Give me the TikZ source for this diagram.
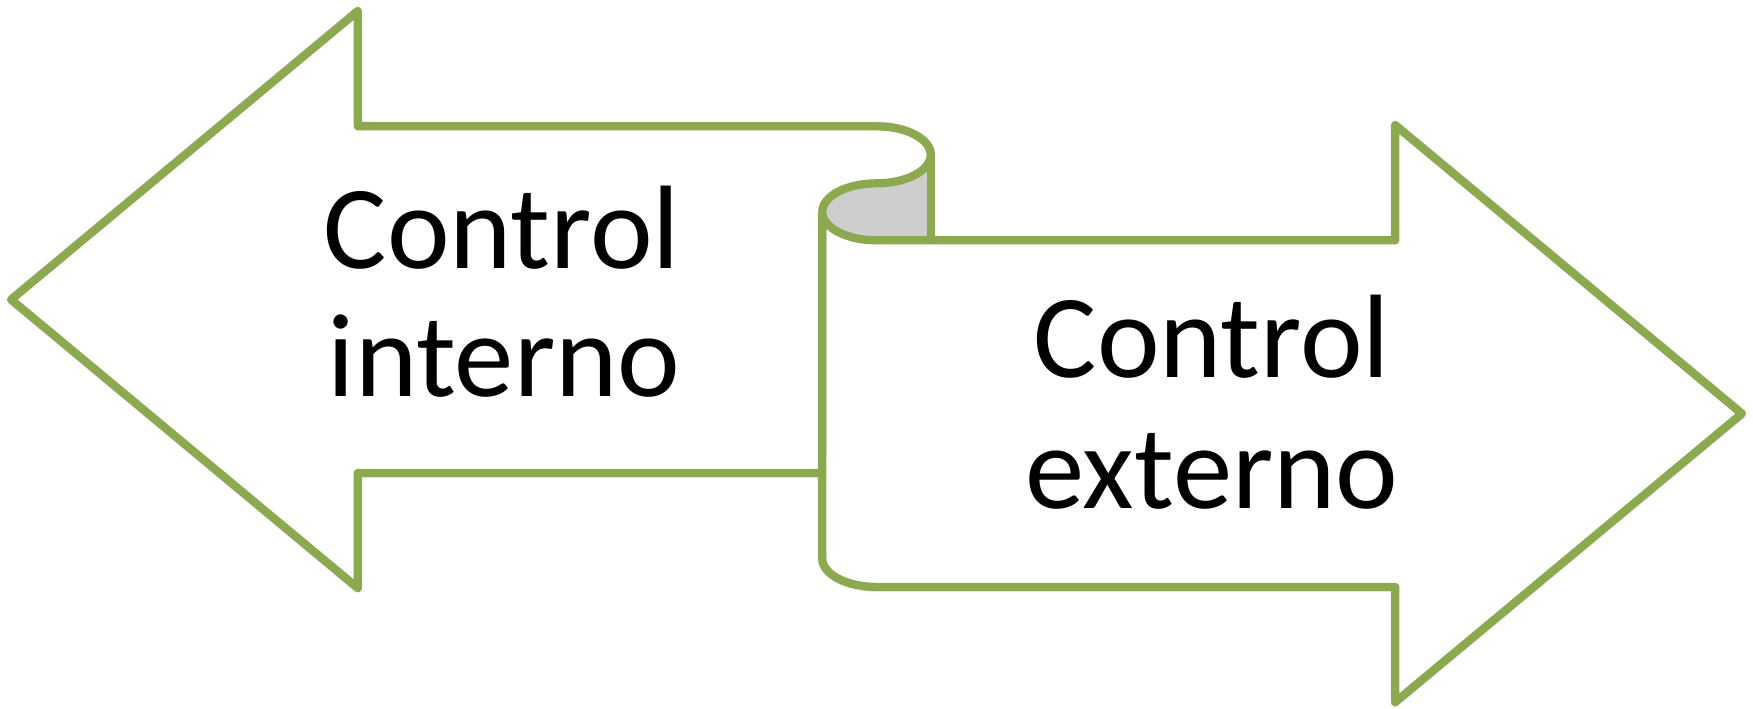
\documentclass[tikz,border=0pt]{standalone}
\usepackage{fontspec}
\setmainfont{Carlito}
\definecolor{ribgreen}{RGB}{141,169,80}
\definecolor{curlgray}{RGB}{206,206,206}
\begin{document}
\begin{tikzpicture}[x=0.01cm,y=0.01cm,
  ribline/.style={draw=ribgreen,line width=2.1pt,line join=round,line cap=round},
  shadowline/.style={draw=black!30,opacity=0.35,line width=2.4pt,line join=round},
  lbl/.style={anchor=base,inner sep=0pt,font=\fontsize{30.2}{33}\selectfont}]
\useasboundingbox (0,0) rectangle (1568,634);
% key points
\coordinate (Ltip) at (10,366);
\coordinate (Lht) at (320,624);
\coordinate (Lnt) at (320,521);
\coordinate (Lnb) at (320,211);
\coordinate (Lhb) at (320,108);
\coordinate (Rtip) at (1558,264);
\coordinate (Rht) at (1248,522);
\coordinate (Rnt) at (1248,419);
\coordinate (Rnb) at (1248,109);
\coordinate (Rhb) at (1248,6);
\coordinate (C1) at (784,521);
\coordinate (C2) at (784,419);
\coordinate (C3) at (735.5,211);
\coordinate (C4) at (735.5,134.5);
\coordinate (C5) at (832.5,495.5);
\coordinate (C6) at (832.5,419);
% shadow
\begin{scope}[shift={(2,-3)}]
\path[shadowline] (C3) -- (Lnb) -- (Lhb) -- (Ltip) -- (Lht) -- (Lnt) -- (C1)
  arc[start angle=90,end angle=-90,x radius=48.5,y radius=25.5]
  arc[start angle=90,end angle=180,x radius=48.5,y radius=25.5]
  -- (C4) arc[start angle=180,end angle=270,x radius=48.5,y radius=25.5]
  -- (Rnb) -- (Rhb) -- (Rtip) -- (Rht) -- (Rnt) -- (C2);
\end{scope}
% white body
\fill[white] (C3) -- (Lnb) -- (Lhb) -- (Ltip) -- (Lht) -- (Lnt) -- (C1)
  arc[start angle=90,end angle=-90,x radius=48.5,y radius=25.5]
  arc[start angle=90,end angle=180,x radius=48.5,y radius=25.5]
  -- (C4) arc[start angle=180,end angle=270,x radius=48.5,y radius=25.5]
  -- (Rnb) -- (Rhb) -- (Rtip) -- (Rht) -- (Rnt) -- (C2) -- cycle;
% gray curl
\fill[curlgray] (735.5,444.5)
  arc[start angle=180,end angle=90,x radius=48.5,y radius=25.5]
  arc[start angle=-90,end angle=0,x radius=48.5,y radius=25.5]
  -- (C6) -- (C2)
  arc[start angle=270,end angle=180,x radius=48.5,y radius=25.5] -- cycle;
% outline
\path[ribline] (C3) -- (Lnb) -- (Lhb) -- (Ltip) -- (Lht) -- (Lnt) -- (C1)
  arc[start angle=90,end angle=-90,x radius=48.5,y radius=25.5]
  arc[start angle=90,end angle=180,x radius=48.5,y radius=25.5]
  -- (C4) arc[start angle=180,end angle=270,x radius=48.5,y radius=25.5]
  -- (Rnb) -- (Rhb) -- (Rtip) -- (Rht) -- (Rnt) -- (C2)
  arc[start angle=270,end angle=180,x radius=48.5,y radius=25.5];
\path[ribline] (C5) -- (C6);
% labels
\node[lbl] (li1) at (449,394) {Control};
\node[lbl] (li2) at (451,279) {interno};
\node[lbl] (le1) at (1084,296) {Control};
\node[lbl] (le2) at (1084,179) {externo};
\end{tikzpicture}
\end{document}
